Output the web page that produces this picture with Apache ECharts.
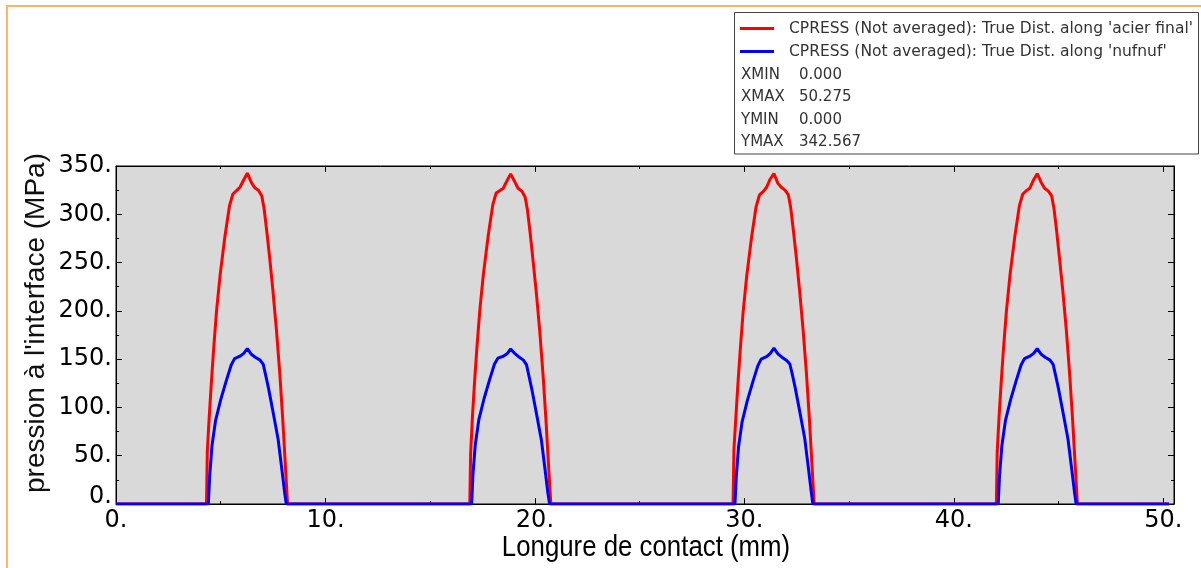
<!DOCTYPE html>
<html>
<head>
<meta charset="utf-8">
<script src="https://cdn.jsdelivr.net/npm/echarts@6/dist/echarts.min.js"></script>
<style>
  html, body { margin: 0; padding: 0; background: #fff; }
  #chart { width: 1201px; height: 568px; }
</style>
</head>
<body>
<div id="chart"></div>
<script>
// Contact pressure along two paths (four contact zones each)
const seriesNames = [
  "CPRESS (Not averaged): True Dist. along 'acier final'",
  "CPRESS (Not averaged): True Dist. along 'nufnuf'"
];

// Path 'acier final': distance (mm) and pressure (MPa)
const acierX = [
  0,
  4.32, 4.36, 4.45, 4.55, 4.66, 4.80, 4.97, 5.20, 5.42, 5.58, 5.78, 5.92, 6.08, 6.27,
  6.46, 6.62, 6.80, 6.96, 7.07, 7.20, 7.35, 7.50, 7.66, 7.82, 7.96, 8.08, 8.19,
  16.89, 16.93, 17.02, 17.12, 17.23, 17.37, 17.54, 17.77, 17.99, 18.15, 18.35, 18.49, 18.65, 18.84,
  19.03, 19.19, 19.37, 19.53, 19.64, 19.77, 19.92, 20.07, 20.23, 20.39, 20.53, 20.65, 20.76,
  29.46, 29.50, 29.59, 29.69, 29.80, 29.94, 30.11, 30.34, 30.56, 30.72, 30.92, 31.06, 31.22, 31.41,
  31.60, 31.76, 31.94, 32.10, 32.21, 32.34, 32.49, 32.64, 32.80, 32.96, 33.10, 33.22, 33.33,
  42.03, 42.07, 42.16, 42.26, 42.37, 42.51, 42.68, 42.91, 43.13, 43.29, 43.49, 43.63, 43.79, 43.98,
  44.17, 44.33, 44.51, 44.67, 44.78, 44.91, 45.06, 45.21, 45.37, 45.53, 45.67, 45.79, 45.90,
  50.275
];
const acierY = [
  0,
  0, 55, 90, 125, 160, 200, 237, 277, 309, 321, 325, 328, 335, 342.567,
  333, 327.5, 325, 319, 306, 282, 252, 219, 180, 135, 88, 42, 0,
  0, 52, 92, 127, 162, 201, 238, 278, 310, 322, 325, 327, 334, 341.8,
  334, 327, 324, 318, 305, 281, 250, 218, 179, 133, 86, 40, 0,
  0, 56, 89, 124, 159, 199, 236, 276, 308, 320, 324, 328, 336, 342.2,
  332, 328, 325, 320, 307, 283, 253, 220, 181, 136, 89, 43, 0,
  0, 54, 91, 126, 161, 200, 237, 277, 309, 321, 325, 327, 335, 342.0,
  333, 327, 324, 319, 306, 282, 251, 219, 180, 134, 87, 41, 0,
  0
];

// Path 'nufnuf': distance (mm) and pressure (MPa)
const nufnufX = [
  0,
  4.41, 4.47, 4.58, 4.75, 5.00, 5.27, 5.50, 5.66, 5.92, 6.10, 6.27,
  6.46, 6.65, 6.88, 7.03, 7.15, 7.28, 7.50, 7.74, 7.90, 8.05, 8.13,
  16.98, 17.04, 17.15, 17.32, 17.57, 17.84, 18.07, 18.23, 18.49, 18.67, 18.84,
  19.03, 19.22, 19.45, 19.60, 19.72, 19.85, 20.07, 20.31, 20.47, 20.62, 20.70,
  29.55, 29.61, 29.72, 29.89, 30.14, 30.41, 30.64, 30.80, 31.06, 31.24, 31.41,
  31.60, 31.79, 32.02, 32.17, 32.29, 32.42, 32.64, 32.88, 33.04, 33.19, 33.27,
  42.12, 42.18, 42.29, 42.46, 42.71, 42.98, 43.21, 43.37, 43.63, 43.81, 43.98,
  44.17, 44.36, 44.59, 44.74, 44.86, 44.99, 45.21, 45.45, 45.61, 45.76, 45.84,
  50.275
];
const nufnufY = [
  0,
  0, 28, 60, 86, 108, 128, 144, 150.5, 153, 156, 161,
  155, 152, 149, 144.5, 133, 120, 95, 67, 39, 12, 0,
  0, 30, 61, 87, 109, 129, 145, 151, 153, 155.5, 160.5,
  156, 152.5, 149, 144, 132, 119, 94, 66, 38, 11, 0,
  0, 27, 59, 85, 107, 127, 143, 150, 152.5, 156, 161.3,
  155.5, 152, 148.5, 145, 134, 121, 96, 68, 40, 13, 0,
  0, 29, 60, 86, 108, 128, 144, 150.5, 153, 156, 160.8,
  155, 152, 149, 144.5, 133, 120, 95, 67, 39, 12, 0,
  0
];

const xTicks = [0, 10, 20, 30, 40, 50];
const yTicks = [0, 50, 100, 150, 200, 250, 300, 350];

const xTitle = 'Longure de contact (mm)';
const yTitle = "pression à l'interface (MPa)";

const pair = (xs, ys) => xs.map((x, i) => [x, ys[i]]);
const acierData = pair(acierX, acierY);
const nufnufData = pair(nufnufX, nufnufY);

// Extremes shown in the legend box
const allX = acierX.concat(nufnufX);
const allY = acierY.concat(nufnufY);
const stats = [
  ['XMIN', Math.min(...allX)],
  ['XMAX', Math.max(...allX)],
  ['YMIN', Math.min(...allY)],
  ['YMAX', Math.max(...allY)]
];

const tickFont = 'DejaVu Sans';
const black = '#000';
const X_MAX = 50.51;

// Ticks on all four sides point into the plot. Long ticks sit on the
// labelled step; short ticks come from a second, unlabelled axis at half step.
// onZero is off so the top/right axes stay on their own edges.
function xAxisDef(pos, step, tickLen, labels) {
  return {
    type: 'value',
    position: pos,
    min: xTicks[0],
    max: X_MAX,
    interval: step,
    axisLine: { show: labels !== null, onZero: false, lineStyle: { color: black, width: 1 } },
    axisTick: { show: true, inside: true, length: tickLen, lineStyle: { color: black } },
    splitLine: { show: false },
    axisLabel: labels ? {
      show: true,
      margin: 5,
      fontFamily: tickFont,
      fontSize: 24,
      color: black,
      formatter: v => (xTicks.indexOf(v) >= 0 ? v + '.' : '')
    } : { show: false }
  };
}

function yAxisDef(pos, step, tickLen, labels) {
  return {
    type: 'value',
    position: pos,
    min: yTicks[0],
    max: yTicks[yTicks.length - 1],
    interval: step,
    axisLine: { show: labels !== null, onZero: false, lineStyle: { color: black, width: 1 } },
    axisTick: { show: true, inside: true, length: tickLen, lineStyle: { color: black } },
    splitLine: { show: false },
    axisLabel: labels ? {
      show: true,
      margin: 4,
      fontFamily: tickFont,
      fontSize: 24,
      color: black,
      formatter: v => (v === 0 ? '{z|0.}' : v + '.'),
      rich: { z: { fontFamily: tickFont, fontSize: 24, color: black, padding: [0, 0, 14, 0] } }
    } : { show: false }
  };
}

const statFont = '15px "DejaVu Sans"';
const statGraphics = [];
stats.forEach((s, i) => {
  const y = 75 + i * 22.5;
  statGraphics.push({
    type: 'text', x: 741, y: y, z: 3,
    style: { text: s[0], fill: '#333', font: statFont, textVerticalAlign: 'middle' }
  });
  statGraphics.push({
    type: 'text', x: 799, y: y, z: 3,
    style: { text: s[1].toFixed(3), fill: '#333', font: statFont, textVerticalAlign: 'middle' }
  });
});

const chart = echarts.init(document.getElementById('chart'), null, { renderer: 'canvas' });
chart.setOption({
  animation: false,
  backgroundColor: '#fff',
  grid: {
    left: 116, right: 27, top: 166, bottom: 64,
    show: true, backgroundColor: '#d9d9d9', borderColor: black, borderWidth: 1
  },
  legend: {
    orient: 'vertical',
    left: 740,
    top: 20,
    padding: 0,
    icon: 'rect',
    itemWidth: 34,
    itemHeight: 3,
    itemGap: 6,
    selectedMode: false,
    z: 4,
    data: seriesNames,
    textStyle: {
      fontFamily: 'DejaVu Sans', fontSize: 15.5, color: '#333', lineHeight: 17,
      padding: [0, 0, 0, 10]
    }
  },
  xAxis: [
    xAxisDef('bottom', 10, 6, true),
    xAxisDef('top', 10, 6, false),
    xAxisDef('bottom', 5, 3, null),
    xAxisDef('top', 5, 3, null)
  ],
  yAxis: [
    yAxisDef('left', 50, 6, true),
    yAxisDef('right', 50, 6, false),
    yAxisDef('left', 25, 3, null),
    yAxisDef('right', 25, 3, null)
  ],
  series: [
    {
      name: seriesNames[0], type: 'line', data: acierData,
      showSymbol: false, symbol: 'none',
      lineStyle: { color: '#ff0000', width: 3 }, itemStyle: { color: '#ff0000' }
    },
    {
      name: seriesNames[1], type: 'line', data: nufnufData,
      showSymbol: false, symbol: 'none',
      lineStyle: { color: '#0000ff', width: 3 }, itemStyle: { color: '#0000ff' }
    }
  ],
  graphic: [
    // window frame
    { type: 'line', z: 5, shape: { x1: 6, y1: 6, x2: 1201, y2: 6 }, style: { stroke: '#ffb366', lineWidth: 2 } },
    { type: 'line', z: 5, shape: { x1: 7, y1: 5, x2: 7, y2: 568 }, style: { stroke: '#ffb366', lineWidth: 2 } },
    // legend box
    { type: 'rect', z: 1, shape: { x: 734.5, y: 12.5, width: 464, height: 141.5 },
      style: { fill: '#fff', stroke: '#444', lineWidth: 1 } },
    ...statGraphics,
    // axis titles
    { type: 'text', z: 3, x: 646, y: 548,
      scaleX: 0.89,
      style: { text: xTitle, fill: black, font: '29px "Liberation Sans"',
               textAlign: 'center', textVerticalAlign: 'middle' } },
    { type: 'text', z: 3, x: 36, y: 323, rotation: Math.PI / 2,
      style: { text: yTitle, fill: '#111', font: '28px "Liberation Sans"',
               textAlign: 'center', textVerticalAlign: 'middle' } }
  ]
});
</script>
</body>
</html>
